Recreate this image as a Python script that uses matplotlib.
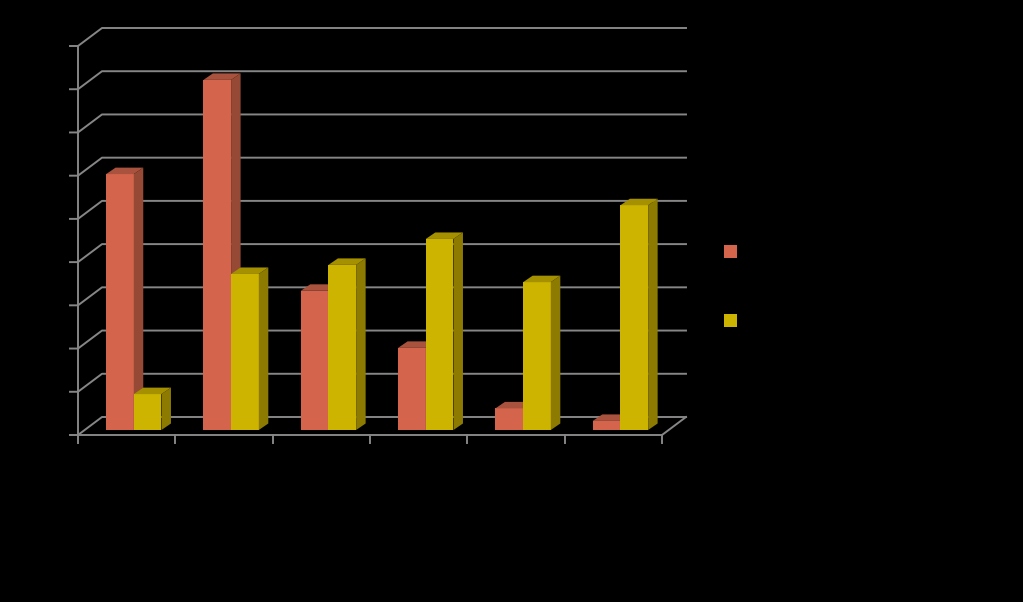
import numpy as np
import matplotlib
matplotlib.use("Agg")
import matplotlib.pyplot as plt
from matplotlib.patches import Rectangle

# values (labels are not visible in the original)
red_values = [59.2, 81.0, 32.2, 19.0, 5.0, 2.1]
yellow_values = [8.3, 36.1, 38.2, 44.2, 34.2, 52.0]
y_ticks = np.arange(0, 100, 10)

RED = ("#d4654c", "#964a35", "#a9523e")
YELLOW = ("#cdb400", "#8c7b00", "#a59000")
GRID = "#868686"

W, H = 1023, 602
X0, X1 = 78, 662  # pixels of category range
Y0, Y1 = 435, 46  # pixels of value range
n_cat = len(red_values)
px_x = (X1 - X0) / n_cat
px_y = (Y0 - Y1) / y_ticks[-1]

# 3d look, in data units
wall_dx, wall_dy = 24 / px_x, 18 / px_y
bar_off_x, bar_off_y = 7.1 / px_x, 5 / px_y
bar_dx, bar_dy = 9.5 / px_x, 6.5 / px_y
bar_w = 27.7 / px_x


def draw_bar(ax, left, value, colors):
    x0 = left + bar_off_x
    x1 = x0 + bar_w
    base = bar_off_y
    top = base + value
    ax.fill([x0, x1, x1, x0], [base, base, top, top], color=colors[0], lw=0, zorder=3)
    ax.fill([x1, x1 + bar_dx, x1 + bar_dx, x1],
            [base, base + bar_dy, top + bar_dy, top], color=colors[1], lw=0, zorder=3)
    ax.fill([x0, x1, x1 + bar_dx, x0 + bar_dx],
            [top, top, top + bar_dy, top + bar_dy], color=colors[2], lw=0, zorder=3)


fig = plt.figure(figsize=(W / 100, H / 100), dpi=100, facecolor="black")
ax = fig.add_axes([0, 0, 1, 1])
ax.set_xlim(-X0 / px_x, (W - X0) / px_x)
ax.set_ylim(-(H - Y0) / px_y, Y0 / px_y)
ax.axis("off")

tick_len = 8 / px_x
# walls and gridlines
for t in y_ticks:
    ax.plot([-tick_len, 0, wall_dx, n_cat + wall_dx],
            [t, t, t + wall_dy, t + wall_dy], color=GRID, lw=1.4, zorder=1)
ax.plot([0, 0], [0, y_ticks[-1]], color=GRID, lw=1.4, zorder=1)
ax.plot([0, n_cat, n_cat + wall_dx], [0, 0, wall_dy], color=GRID, lw=1.4, zorder=1)
for i in range(n_cat + 1):
    ax.plot([i, i], [0, -8 / px_y], color=GRID, lw=1.4, zorder=1)

for i in range(n_cat):
    center = i + 0.5
    draw_bar(ax, center - bar_w, red_values[i], RED)
    draw_bar(ax, center, yellow_values[i], YELLOW)

# legend swatches
for top_px, colors in [(245, RED), (314, YELLOW)]:
    fig.add_artist(Rectangle((724 / W, 1 - (top_px + 13) / H), 13 / W, 13 / H,
                             transform=fig.transFigure, color=colors[0], lw=0))

fig.savefig("out.png", dpi=100, facecolor="black")
